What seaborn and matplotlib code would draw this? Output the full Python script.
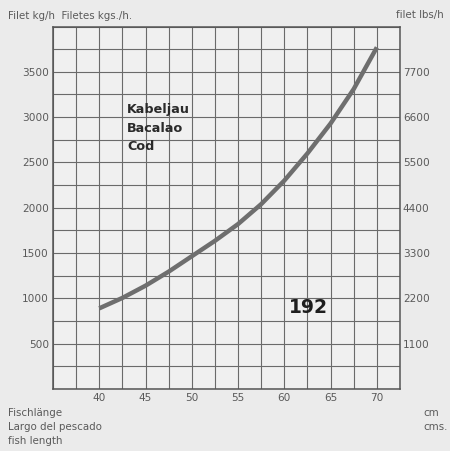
import matplotlib
matplotlib.use('Agg')
import matplotlib.pyplot as plt
import numpy as np
import pandas as pd
import seaborn as sns

# values
length_cm = [40, 42.5, 45, 47.5, 50, 52.5, 55, 57.5, 60, 62.5, 65, 67.5, 70]
filet_kg_h = [890, 1005, 1140, 1295, 1465, 1635, 1820, 2040, 2300, 2600, 2930, 3310, 3770]
x_ticks = [40, 45, 50, 55, 60, 65, 70]
y_ticks = [500, 1000, 1500, 2000, 2500, 3000, 3500]
lbs_ticks = [1100, 2200, 3300, 4400, 5500, 6600, 7700]
species = ['Kabeljau', 'Bacalao', 'Cod']
x_label = ['Fischlänge', 'Largo del pescado', 'fish length']
unit_label = ['cm', 'cms.']

bg = '#ebebeb'
txt = '#5a5a5a'
sns.set_style('white', {'axes.facecolor': '#f0f0f0', 'figure.facecolor': bg})
plt.rcParams['font.family'] = ['DejaVu Sans']

df = pd.DataFrame({'length': length_cm, 'kg': filet_kg_h})

fig = plt.figure(figsize=(4.5, 4.51), dpi=100)
ax = fig.add_axes([53 / 450, 1 - 389 / 451, 347 / 450, 362.5 / 451])

sns.lineplot(data=df, x='length', y='kg', ax=ax, color='#6e6e6e', linewidth=3.2,
             solid_capstyle='butt', zorder=5)

ax.set_xlim(35, 72.5)
ax.set_ylim(0, 4000)
ax.set_xticks(x_ticks)
ax.set_yticks(y_ticks)
ax.set_xticks(np.arange(35, 72.6, 2.5), minor=True)
ax.set_yticks(np.arange(0, 4001, 250), minor=True)
ax.grid(True, which='both', color='#6a6a6a', linewidth=0.8)
ax.tick_params(which='both', length=0)
ax.tick_params(axis='x', pad=3, labelsize=7.6, labelcolor=txt)
ax.tick_params(axis='y', pad=3, labelsize=7.6, labelcolor=txt)
for s in ax.spines.values():
    s.set_visible(True)
    s.set_color('#555555')
    s.set_linewidth(1.1)
ax.set_xlabel('')
ax.set_ylabel('')

sec = ax.secondary_yaxis('right', functions=(lambda v: v * 2.2, lambda v: v / 2.2))
sec.set_yticks(lbs_ticks)
sec.tick_params(length=0, pad=2, labelsize=7.6, labelcolor=txt)
sec.spines['right'].set_visible(False)

for i, name in enumerate(species):
    ax.text(0.213, 0.772 - i * 0.052, name, transform=ax.transAxes, fontsize=9.2,
            fontweight='bold', color='#2a2a2a', va='center', ha='left')
ax.text(0.68, 0.225, '192', transform=ax.transAxes, fontsize=13.5,
        fontweight='bold', color='#1e1e1e', va='center', ha='left')

fig.text(8 / 450, 1 - 16 / 451, 'Filet kg/h  Filetes kgs./h.', fontsize=7.4,
         color=txt, va='center', ha='left')
fig.text(444 / 450, 1 - 15 / 451, 'filet lbs/h', fontsize=7.4,
         color=txt, va='center', ha='right')
for i, lab in enumerate(x_label):
    fig.text(8 / 450, 1 - (413 + i * 14) / 451, lab, fontsize=7.4, color=txt,
             va='center', ha='left')
for i, lab in enumerate(unit_label):
    fig.text(423 / 450, 1 - (413 + i * 14) / 451, lab, fontsize=7.4, color=txt,
             va='center', ha='left')

fig.savefig('out.png', dpi=100, facecolor=bg)
